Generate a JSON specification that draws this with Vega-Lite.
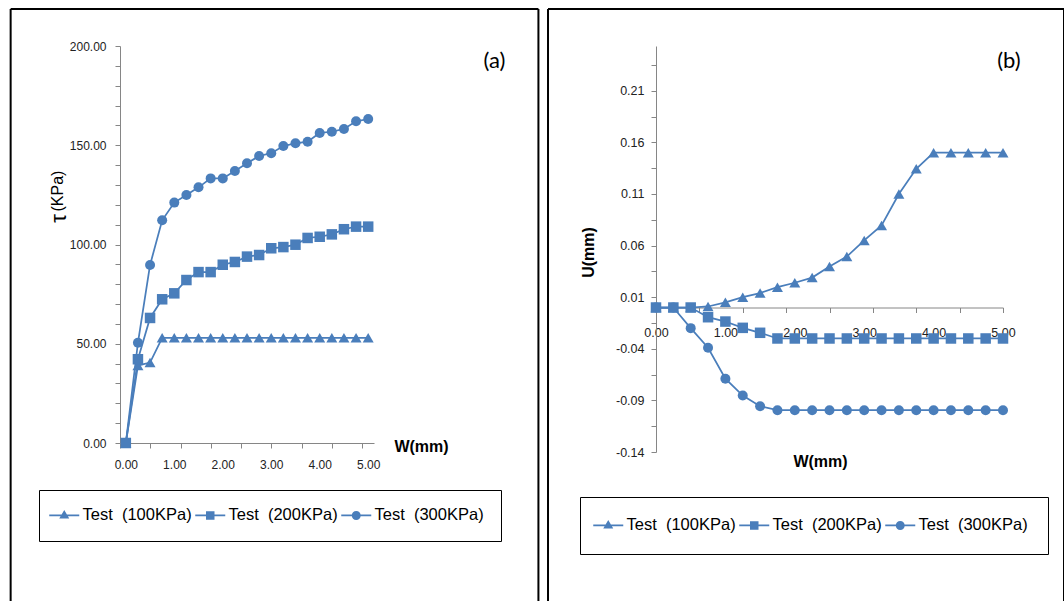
{
  "$schema": "https://vega.github.io/schema/vega-lite/v6.json",
  "padding": {"left": 9, "top": 7, "right": 1, "bottom": 0},
  "background": "white",
  "spacing": 7,
  "config": {
    "view": {"stroke": null},
    "axis": {"domainColor": "#868686", "tickColor": "#868686", "labelColor": "#222222", "labelFont": "Liberation Sans", "titleFont": "Liberation Sans", "grid": false, "labelFontSize": 12, "labelOverlap": false, "labelFlush": false}
  },
  "datasets": {
    "tau": [
      {"W": 0, "v": 0, "test": "100KPa"}, {"W": 0.25, "v": 39, "test": "100KPa"}, {"W": 0.5, "v": 40.5, "test": "100KPa"}, {"W": 0.75, "v": 53, "test": "100KPa"}, {"W": 1, "v": 53, "test": "100KPa"}, {"W": 1.25, "v": 53, "test": "100KPa"}, {"W": 1.5, "v": 53, "test": "100KPa"}, {"W": 1.75, "v": 53, "test": "100KPa"}, {"W": 2, "v": 53, "test": "100KPa"}, {"W": 2.25, "v": 53, "test": "100KPa"}, {"W": 2.5, "v": 53, "test": "100KPa"}, {"W": 2.75, "v": 53, "test": "100KPa"}, {"W": 3, "v": 53, "test": "100KPa"}, {"W": 3.25, "v": 53, "test": "100KPa"}, {"W": 3.5, "v": 53, "test": "100KPa"}, {"W": 3.75, "v": 53, "test": "100KPa"}, {"W": 4, "v": 53, "test": "100KPa"}, {"W": 4.25, "v": 53, "test": "100KPa"}, {"W": 4.5, "v": 53, "test": "100KPa"}, {"W": 4.75, "v": 53, "test": "100KPa"}, {"W": 5, "v": 53, "test": "100KPa"},
      {"W": 0, "v": 0, "test": "200KPa"}, {"W": 0.25, "v": 42.2, "test": "200KPa"}, {"W": 0.5, "v": 63, "test": "200KPa"}, {"W": 0.75, "v": 72.4, "test": "200KPa"}, {"W": 1, "v": 75.4, "test": "200KPa"}, {"W": 1.25, "v": 82.1, "test": "200KPa"}, {"W": 1.5, "v": 86.1, "test": "200KPa"}, {"W": 1.75, "v": 86.1, "test": "200KPa"}, {"W": 2, "v": 89.8, "test": "200KPa"}, {"W": 2.25, "v": 91.2, "test": "200KPa"}, {"W": 2.5, "v": 93.9, "test": "200KPa"}, {"W": 2.75, "v": 94.7, "test": "200KPa"}, {"W": 3, "v": 98.1, "test": "200KPa"}, {"W": 3.25, "v": 98.7, "test": "200KPa"}, {"W": 3.5, "v": 99.9, "test": "200KPa"}, {"W": 3.75, "v": 103.3, "test": "200KPa"}, {"W": 4, "v": 103.9, "test": "200KPa"}, {"W": 4.25, "v": 105.1, "test": "200KPa"}, {"W": 4.5, "v": 107.7, "test": "200KPa"}, {"W": 4.75, "v": 109, "test": "200KPa"}, {"W": 5, "v": 109, "test": "200KPa"},
      {"W": 0, "v": 0, "test": "300KPa"}, {"W": 0.25, "v": 50.5, "test": "300KPa"}, {"W": 0.5, "v": 89.7, "test": "300KPa"}, {"W": 0.75, "v": 112.2, "test": "300KPa"}, {"W": 1, "v": 121.1, "test": "300KPa"}, {"W": 1.25, "v": 124.9, "test": "300KPa"}, {"W": 1.5, "v": 128.8, "test": "300KPa"}, {"W": 1.75, "v": 133.3, "test": "300KPa"}, {"W": 2, "v": 133.3, "test": "300KPa"}, {"W": 2.25, "v": 137, "test": "300KPa"}, {"W": 2.5, "v": 140.9, "test": "300KPa"}, {"W": 2.75, "v": 144.6, "test": "300KPa"}, {"W": 3, "v": 146, "test": "300KPa"}, {"W": 3.25, "v": 149.6, "test": "300KPa"}, {"W": 3.5, "v": 151, "test": "300KPa"}, {"W": 3.75, "v": 151.8, "test": "300KPa"}, {"W": 4, "v": 156.2, "test": "300KPa"}, {"W": 4.25, "v": 156.8, "test": "300KPa"}, {"W": 4.5, "v": 158.2, "test": "300KPa"}, {"W": 4.75, "v": 162.1, "test": "300KPa"}, {"W": 5, "v": 163.2, "test": "300KPa"}
    ],
    "u": [
      {"W": 0, "v": 0, "test": "100KPa"}, {"W": 0.25, "v": 0, "test": "100KPa"}, {"W": 0.5, "v": 0, "test": "100KPa"}, {"W": 0.75, "v": 0.001, "test": "100KPa"}, {"W": 1, "v": 0.005, "test": "100KPa"}, {"W": 1.25, "v": 0.01, "test": "100KPa"}, {"W": 1.5, "v": 0.014, "test": "100KPa"}, {"W": 1.75, "v": 0.0197, "test": "100KPa"}, {"W": 2, "v": 0.024, "test": "100KPa"}, {"W": 2.25, "v": 0.029, "test": "100KPa"}, {"W": 2.5, "v": 0.0397, "test": "100KPa"}, {"W": 2.75, "v": 0.0494, "test": "100KPa"}, {"W": 3, "v": 0.065, "test": "100KPa"}, {"W": 3.25, "v": 0.0795, "test": "100KPa"}, {"W": 3.5, "v": 0.11, "test": "100KPa"}, {"W": 3.75, "v": 0.1344, "test": "100KPa"}, {"W": 4, "v": 0.15, "test": "100KPa"}, {"W": 4.25, "v": 0.15, "test": "100KPa"}, {"W": 4.5, "v": 0.15, "test": "100KPa"}, {"W": 4.75, "v": 0.15, "test": "100KPa"}, {"W": 5, "v": 0.15, "test": "100KPa"},
      {"W": 0, "v": 0, "test": "200KPa"}, {"W": 0.25, "v": 0, "test": "200KPa"}, {"W": 0.5, "v": 0, "test": "200KPa"}, {"W": 0.75, "v": -0.0094, "test": "200KPa"}, {"W": 1, "v": -0.0136, "test": "200KPa"}, {"W": 1.25, "v": -0.0197, "test": "200KPa"}, {"W": 1.5, "v": -0.0245, "test": "200KPa"}, {"W": 1.75, "v": -0.03, "test": "200KPa"}, {"W": 2, "v": -0.03, "test": "200KPa"}, {"W": 2.25, "v": -0.03, "test": "200KPa"}, {"W": 2.5, "v": -0.03, "test": "200KPa"}, {"W": 2.75, "v": -0.03, "test": "200KPa"}, {"W": 3, "v": -0.03, "test": "200KPa"}, {"W": 3.25, "v": -0.03, "test": "200KPa"}, {"W": 3.5, "v": -0.03, "test": "200KPa"}, {"W": 3.75, "v": -0.03, "test": "200KPa"}, {"W": 4, "v": -0.03, "test": "200KPa"}, {"W": 4.25, "v": -0.03, "test": "200KPa"}, {"W": 4.5, "v": -0.03, "test": "200KPa"}, {"W": 4.75, "v": -0.03, "test": "200KPa"}, {"W": 5, "v": -0.03, "test": "200KPa"},
      {"W": 0, "v": 0, "test": "300KPa"}, {"W": 0.25, "v": 0, "test": "300KPa"}, {"W": 0.5, "v": -0.02, "test": "300KPa"}, {"W": 0.75, "v": -0.039, "test": "300KPa"}, {"W": 1, "v": -0.069, "test": "300KPa"}, {"W": 1.25, "v": -0.0853, "test": "300KPa"}, {"W": 1.5, "v": -0.0956, "test": "300KPa"}, {"W": 1.75, "v": -0.0995, "test": "300KPa"}, {"W": 2, "v": -0.0995, "test": "300KPa"}, {"W": 2.25, "v": -0.0995, "test": "300KPa"}, {"W": 2.5, "v": -0.0995, "test": "300KPa"}, {"W": 2.75, "v": -0.0995, "test": "300KPa"}, {"W": 3, "v": -0.0995, "test": "300KPa"}, {"W": 3.25, "v": -0.0995, "test": "300KPa"}, {"W": 3.5, "v": -0.0995, "test": "300KPa"}, {"W": 3.75, "v": -0.0995, "test": "300KPa"}, {"W": 4, "v": -0.0995, "test": "300KPa"}, {"W": 4.25, "v": -0.0995, "test": "300KPa"}, {"W": 4.5, "v": -0.0995, "test": "300KPa"}, {"W": 4.75, "v": -0.0995, "test": "300KPa"}, {"W": 5, "v": -0.0995, "test": "300KPa"}
    ]
  },
  "hconcat": [
    {
      "width": 254,
      "height": 397,
      "resolve": {"scale": {"shape": "independent"}, "axis": {"x": "independent", "y": "independent"}},
      "layer": [
        {
          "data": {"values": [{}]},
          "mark": {"type": "rule", "color": "black", "strokeWidth": 2},
          "encoding": {
            "x": {"datum": -2.376, "type": "quantitative", "scale": {"domain": [-0.12, 5.12], "nice": false, "zero": false}, "axis": null},
            "y": {"datum": -80.1, "type": "quantitative", "scale": {"domain": [0, 200], "nice": false, "zero": false}, "axis": null},
            "y2": {"datum": 218.64}
          }
        },
        {
          "data": {"values": [{}]},
          "mark": {"type": "rule", "color": "black", "strokeWidth": 2},
          "encoding": {
            "x": {"datum": 8.512, "type": "quantitative", "scale": {"domain": [-0.12, 5.12], "nice": false, "zero": false}, "axis": null},
            "y": {"datum": -80.1, "type": "quantitative", "scale": {"domain": [0, 200], "nice": false, "zero": false}, "axis": null},
            "y2": {"datum": 218.64}
          }
        },
        {
          "data": {"values": [{}]},
          "mark": {"type": "rule", "color": "black", "strokeWidth": 2},
          "encoding": {
            "x": {"datum": -2.376, "type": "quantitative", "scale": {"domain": [-0.12, 5.12], "nice": false, "zero": false}, "axis": null},
            "x2": {"datum": 8.512},
            "y": {"datum": 218.64, "type": "quantitative", "scale": {"domain": [0, 200], "nice": false, "zero": false}, "axis": null}
          }
        },
        {
          "data": {"values": [{}]},
          "mark": {"type": "text", "text": "(KPa)", "angle": 270, "fontSize": 16, "font": "Liberation Sans", "color": "black", "align": "center", "baseline": "middle"},
          "encoding": {
            "x": {"datum": -1.405, "type": "quantitative", "scale": {"domain": [-0.12, 5.12], "nice": false, "zero": false}, "axis": null},
            "y": {"datum": 126.95, "type": "quantitative", "scale": {"domain": [0, 200], "nice": false, "zero": false}, "axis": null}
          }
        },
        {
          "data": {"values": [{}]},
          "mark": {"type": "text", "text": "(a)", "fontSize": 22, "font": "Lato", "color": "black", "align": "center", "baseline": "middle"},
          "encoding": {
            "x": {"datum": 7.603, "type": "quantitative", "scale": {"domain": [-0.12, 5.12], "nice": false, "zero": false}, "axis": null},
            "y": {"datum": 192.4, "type": "quantitative", "scale": {"domain": [0, 200], "nice": false, "zero": false}, "axis": null}
          }
        },
        {
          "data": {"name": "tau"},
          "mark": {"type": "line", "color": "#4a7ebb", "strokeWidth": 1.75},
          "encoding": {
            "x": {"field": "W", "type": "quantitative", "scale": {"domain": [-0.12, 5.12], "nice": false, "zero": false},
              "axis": {"orient": "bottom", "values": [0, 1, 2, 3, 4, 5], "format": ".2f", "ticks": false, "tickSize": 0, "labelPadding": 16, "domain": true,
                "title": "W(mm)", "titleX": 301, "titleY": 3, "titleAlign": "center", "titleBaseline": "middle", "titleAngle": 0, "titleFontSize": 16, "titleFontWeight": "bold", "titleColor": "black"}},
            "y": {"field": "v", "type": "quantitative", "scale": {"domain": [0, 200], "nice": false, "zero": false},
              "axis": {"orient": "left", "values": [0, 10, 20, 30, 40, 50, 60, 70, 80, 90, 100, 110, 120, 130, 140, 150, 160, 170, 180, 190, 200], "labelExpr": "datum.value % 50 === 0 ? format(datum.value, '.2f') : ''", "tickSize": 5, "labelPadding": 9, "domain": true,
                "title": "τ", "titleX": -62, "titleY": 172, "titleAngle": 270, "titleAlign": "center", "titleBaseline": "middle", "titleFontSize": 22, "titleFontWeight": "normal", "titleColor": "black"}},
            "detail": {"field": "test"}
          }
        },
        {
          "data": {"name": "tau"},
          "mark": {"type": "point", "filled": true, "color": "#4a7ebb", "opacity": 1},
          "encoding": {
            "x": {"field": "W", "type": "quantitative", "scale": {"domain": [-0.12, 5.12], "nice": false, "zero": false},
              "axis": {"orient": "bottom", "values": [-0.12, 0.505, 1.13, 1.755, 2.38, 3.005, 3.63, 4.255, 4.88], "labels": false, "domain": false, "ticks": true, "tickSize": 5, "title": null}},
            "y": {"field": "v", "type": "quantitative", "scale": {"domain": [0, 200], "nice": false, "zero": false}, "axis": null},
            "shape": {"field": "test", "type": "nominal", "scale": {"domain": ["100KPa", "200KPa", "300KPa"], "range": ["triangle-up", "square", "circle"]}, "legend": null},
            "size": {"field": "test", "type": "ordinal", "scale": {"domain": ["100KPa", "200KPa", "300KPa"], "range": [121, 100, 121]}, "legend": null}
          }
        },
        {
          "data": {"name": "tau"},
          "transform": [{"filter": "false"}],
          "mark": {"type": "point", "filled": true, "color": "#4a7ebb", "opacity": 1},
          "encoding": {
            "x": {"field": "W", "type": "quantitative", "scale": {"domain": [-0.12, 5.12], "nice": false, "zero": false}, "axis": null},
            "y": {"field": "v", "type": "quantitative", "scale": {"domain": [0, 200], "nice": false, "zero": false}, "axis": null},
            "shape": {"field": "test", "type": "nominal",
              "scale": {"domain": ["100KPa", "200KPa", "300KPa"], "range": ["M-3,-0.16H3V0.16H-3ZM0,-1.1L1,0.6L-1,0.6Z", "M-3,-0.16H3V0.16H-3ZM-0.85,-0.85H0.85V0.85H-0.85Z", "M-3,-0.16H3V0.16H-3ZM0.9,0A0.9,0.9,0,1,1,-0.9,0A0.9,0.9,0,1,1,0.9,0Z"]},
              "legend": {"orient": "none", "legendX": -81, "legendY": 444, "direction": "horizontal", "title": null, "strokeColor": "black", "padding": 17,
                "labelFont": "Liberation Sans", "labelFontSize": 16.5, "labelColor": "black", "labelOffset": 10, "columnPadding": 0, "symbolSize": 100,
                "symbolFillColor": "#4a7ebb", "symbolOpacity": 1,
                "labelExpr": "'Test\u00a0\u00a0(' + datum.label + ')'"}
            }
          }
        }
      ]
    },
    {
      "width": 347,
      "height": 406,
      "resolve": {"scale": {"shape": "independent"}, "axis": {"x": "independent", "y": "independent"}},
      "layer": [
        {
          "data": {"values": [{}]},
          "mark": {"type": "rule", "color": "black", "strokeWidth": 2},
          "encoding": {
            "x": {"datum": -1.556, "type": "quantitative", "scale": {"domain": [0, 5], "nice": false, "zero": false}, "axis": null},
            "y": {"datum": -0.2854, "type": "quantitative", "scale": {"domain": [-0.14, 0.2534], "nice": false, "zero": false}, "axis": null},
            "y2": {"datum": 0.2893}
          }
        },
        {
          "data": {"values": [{}]},
          "mark": {"type": "rule", "color": "black", "strokeWidth": 2},
          "encoding": {
            "x": {"datum": 5.879, "type": "quantitative", "scale": {"domain": [0, 5], "nice": false, "zero": false}, "axis": null},
            "y": {"datum": -0.2854, "type": "quantitative", "scale": {"domain": [-0.14, 0.2534], "nice": false, "zero": false}, "axis": null},
            "y2": {"datum": 0.2893}
          }
        },
        {
          "data": {"values": [{}]},
          "mark": {"type": "rule", "color": "black", "strokeWidth": 2},
          "encoding": {
            "x": {"datum": -1.556, "type": "quantitative", "scale": {"domain": [0, 5], "nice": false, "zero": false}, "axis": null},
            "x2": {"datum": 5.879},
            "y": {"datum": 0.2893, "type": "quantitative", "scale": {"domain": [-0.14, 0.2534], "nice": false, "zero": false}, "axis": null}
          }
        },
        {
          "data": {"values": [{}]},
          "mark": {"type": "text", "text": "(b)", "fontSize": 22, "font": "Lato", "color": "black", "align": "center", "baseline": "middle"},
          "encoding": {
            "x": {"datum": 5.086, "type": "quantitative", "scale": {"domain": [0, 5], "nice": false, "zero": false}, "axis": null},
            "y": {"datum": 0.2389, "type": "quantitative", "scale": {"domain": [-0.14, 0.2534], "nice": false, "zero": false}, "axis": null}
          }
        },
        {
          "data": {"name": "u"},
          "mark": {"type": "line", "color": "#4a7ebb", "strokeWidth": 1.75},
          "encoding": {
            "x": {"field": "W", "type": "quantitative", "scale": {"domain": [0, 5], "nice": false, "zero": false},
              "axis": {"orient": "bottom", "offset": -144.5, "values": [0, 1, 2, 3, 4, 5], "format": ".2f", "ticks": false, "tickSize": 0, "labelPadding": 19, "labelFontSize": 12.5, "domain": true,
                "title": "W(mm)", "titleX": 164, "titleY": 154, "titleAlign": "center", "titleBaseline": "middle", "titleAngle": 0, "titleFontSize": 16, "titleFontWeight": "bold", "titleColor": "black"}},
            "y": {"field": "v", "type": "quantitative", "scale": {"domain": [-0.14, 0.2534], "nice": false, "zero": false},
              "axis": {"orient": "left", "values": [-0.14, -0.115, -0.09, -0.065, -0.04, -0.015, 0.01, 0.035, 0.06, 0.085, 0.11, 0.135, 0.16, 0.185, 0.21, 0.235], "labelExpr": "(round(datum.value * 1000) + 140) % 50 === 0 ? replace(format(datum.value, '.2f'), '\u2212', '-') : ''", "tickSize": 5, "labelPadding": 7, "labelFontSize": 12.5, "domain": true,
                "title": "U(mm)", "titleX": -68, "titleY": 206, "titleAngle": 270, "titleAlign": "center", "titleBaseline": "middle", "titleFontSize": 16, "titleFontWeight": "bold", "titleColor": "black"}},
            "detail": {"field": "test"}
          }
        },
        {
          "data": {"name": "u"},
          "mark": {"type": "point", "filled": true, "color": "#4a7ebb", "opacity": 1},
          "encoding": {
            "x": {"field": "W", "type": "quantitative", "scale": {"domain": [0, 5], "nice": false, "zero": false},
              "axis": {"orient": "bottom", "offset": -144.5, "values": [0, 0.625, 1.25, 1.875, 2.5, 3.125, 3.75, 4.375, 5], "labels": false, "domain": false, "ticks": true, "tickSize": 5, "title": null}},
            "y": {"field": "v", "type": "quantitative", "scale": {"domain": [-0.14, 0.2534], "nice": false, "zero": false}, "axis": null},
            "shape": {"field": "test", "type": "nominal", "scale": {"domain": ["100KPa", "200KPa", "300KPa"], "range": ["triangle-up", "square", "circle"]}, "legend": null},
            "size": {"field": "test", "type": "ordinal", "scale": {"domain": ["100KPa", "200KPa", "300KPa"], "range": [140, 100, 150]}, "legend": null}
          }
        },
        {
          "data": {"name": "u"},
          "transform": [{"filter": "false"}],
          "mark": {"type": "point", "filled": true, "color": "#4a7ebb", "opacity": 1},
          "encoding": {
            "x": {"field": "W", "type": "quantitative", "scale": {"domain": [0, 5], "nice": false, "zero": false}, "axis": null},
            "y": {"field": "v", "type": "quantitative", "scale": {"domain": [-0.14, 0.2534], "nice": false, "zero": false}, "axis": null},
            "shape": {"field": "test", "type": "nominal",
              "scale": {"domain": ["100KPa", "200KPa", "300KPa"], "range": ["M-3,-0.16H3V0.16H-3ZM0,-1.1L1,0.6L-1,0.6Z", "M-3,-0.16H3V0.16H-3ZM-0.85,-0.85H0.85V0.85H-0.85Z", "M-3,-0.16H3V0.16H-3ZM0.9,0A0.9,0.9,0,1,1,-0.9,0A0.9,0.9,0,1,1,0.9,0Z"]},
              "legend": {"orient": "none", "legendX": -76, "legendY": 451, "direction": "horizontal", "title": null, "strokeColor": "black", "padding": 20,
                "labelFont": "Liberation Sans", "labelFontSize": 16.5, "labelColor": "black", "labelOffset": 10, "columnPadding": 0, "symbolSize": 100,
                "symbolFillColor": "#4a7ebb", "symbolOpacity": 1,
                "labelExpr": "'Test\u00a0\u00a0(' + datum.label + ')'"}
            }
          }
        }
      ]
    }
  ]
}
